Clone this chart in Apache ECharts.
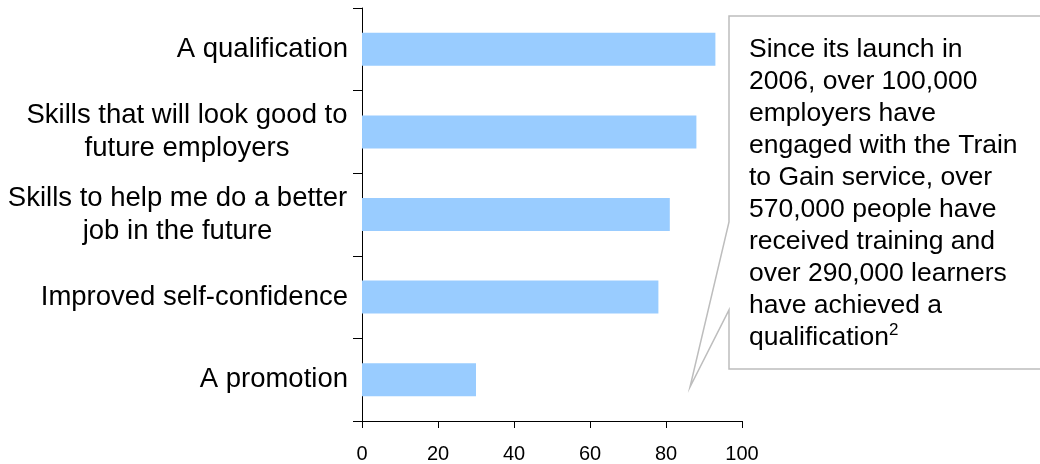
<!DOCTYPE html>
<html>
<head>
<meta charset="utf-8">
<script src="https://cdn.jsdelivr.net/npm/echarts@6/dist/echarts.min.js"></script>
<style>
html,body{margin:0;padding:0;background:#fff;}
#chart{width:1040px;height:464px;}
</style>
</head>
<body>
<div id="chart"></div>
<script>
const categories = [
  'A qualification',
  'Skills that will look good to\nfuture employers',
  'Skills to help me do a better\njob in the future',
  'Improved self-confidence',
  'A promotion'
];
const values = [93, 88, 81, 78, 30];
const xTicks = [0, 20, 40, 60, 80, 100];
const calloutLines = [
  'Since its launch in',
  '2006, over 100,000',
  'employers have',
  'engaged with the Train',
  'to Gain service, over',
  '570,000 people have',
  'received training and',
  'over 290,000 learners',
  'have achieved a',
  'qualification'
];
const calloutSup = '2';

const FONT = '"Liberation Sans", Arial, sans-serif';
const LABEL_SIZE = 27.5;

// measure multi-line labels so that their lines can be centred within the label block
const mctx = document.createElement('canvas').getContext('2d');
mctx.font = LABEL_SIZE + 'px ' + FONT;
const rich = {};
categories.forEach((c, i) => {
  const lines = c.split('\n');
  const w = Math.max(...lines.map(l => mctx.measureText(l).width));
  rich['c' + i] = { width: Math.ceil(w) + 1, align: 'center', fontSize: LABEL_SIZE, fontFamily: FONT, color: '#000', lineHeight: 33 };
});

const chart = echarts.init(document.getElementById('chart'), null, { renderer: 'canvas' });
chart.setOption({
  animation: false,
  backgroundColor: '#fff',
  grid: { left: 362, right: 298, top: 8, bottom: 43, containLabel: false },
  xAxis: {
    type: 'value', min: xTicks[0], max: xTicks[xTicks.length - 1], interval: 20,
    axisLine: { show: true, lineStyle: { color: '#000', width: 1 } },
    axisTick: { show: true, length: 7, lineStyle: { color: '#000' } },
    axisLabel: { fontSize: 20, fontFamily: FONT, color: '#000', margin: 23 },
    splitLine: { show: false }
  },
  yAxis: {
    type: 'category', data: categories, inverse: true,
    axisLine: { show: true, lineStyle: { color: '#000', width: 1 } },
    axisTick: { show: true, length: 9, inside: false, lineStyle: { color: '#000' } },
    axisLabel: {
      margin: 14, fontSize: LABEL_SIZE, fontFamily: FONT, color: '#000', lineHeight: 33,
      formatter: (v, i) => {
        const lines = v.split('\n');
        if (lines.length === 1) return v;
        return lines.map(l => '{c' + i + '|' + l + '}').join('\n');
      },
      rich: rich
    }
  },
  series: [{
    type: 'bar', data: values, barCategoryGap: '60%',
    itemStyle: { color: '#99ccff' }
  }],
  graphic: [
    {
      type: 'polygon', silent: true,
      shape: { points: [[729, 16], [1045, 16], [1045, 369], [729, 369], [729, 310], [690, 387], [729, 222]] },
      style: { fill: '#fff', stroke: '#bdbdbd', lineWidth: 1.5 }
    },
    {
      type: 'text', silent: true, left: 749, top: 34,
      style: {
        text: calloutLines.slice(0, -1).join('\n') + '\n' + calloutLines[calloutLines.length - 1] + '{sup|' + calloutSup + '}',
        font: '26.5px ' + FONT, fill: '#000', lineHeight: 32,
        rich: { sup: { fontSize: 17, fontFamily: FONT, fill: '#000', verticalAlign: 'top', lineHeight: 32, padding: [0, 0, 12, 0] } }
      }
    }
  ]
});
</script>
</body>
</html>
